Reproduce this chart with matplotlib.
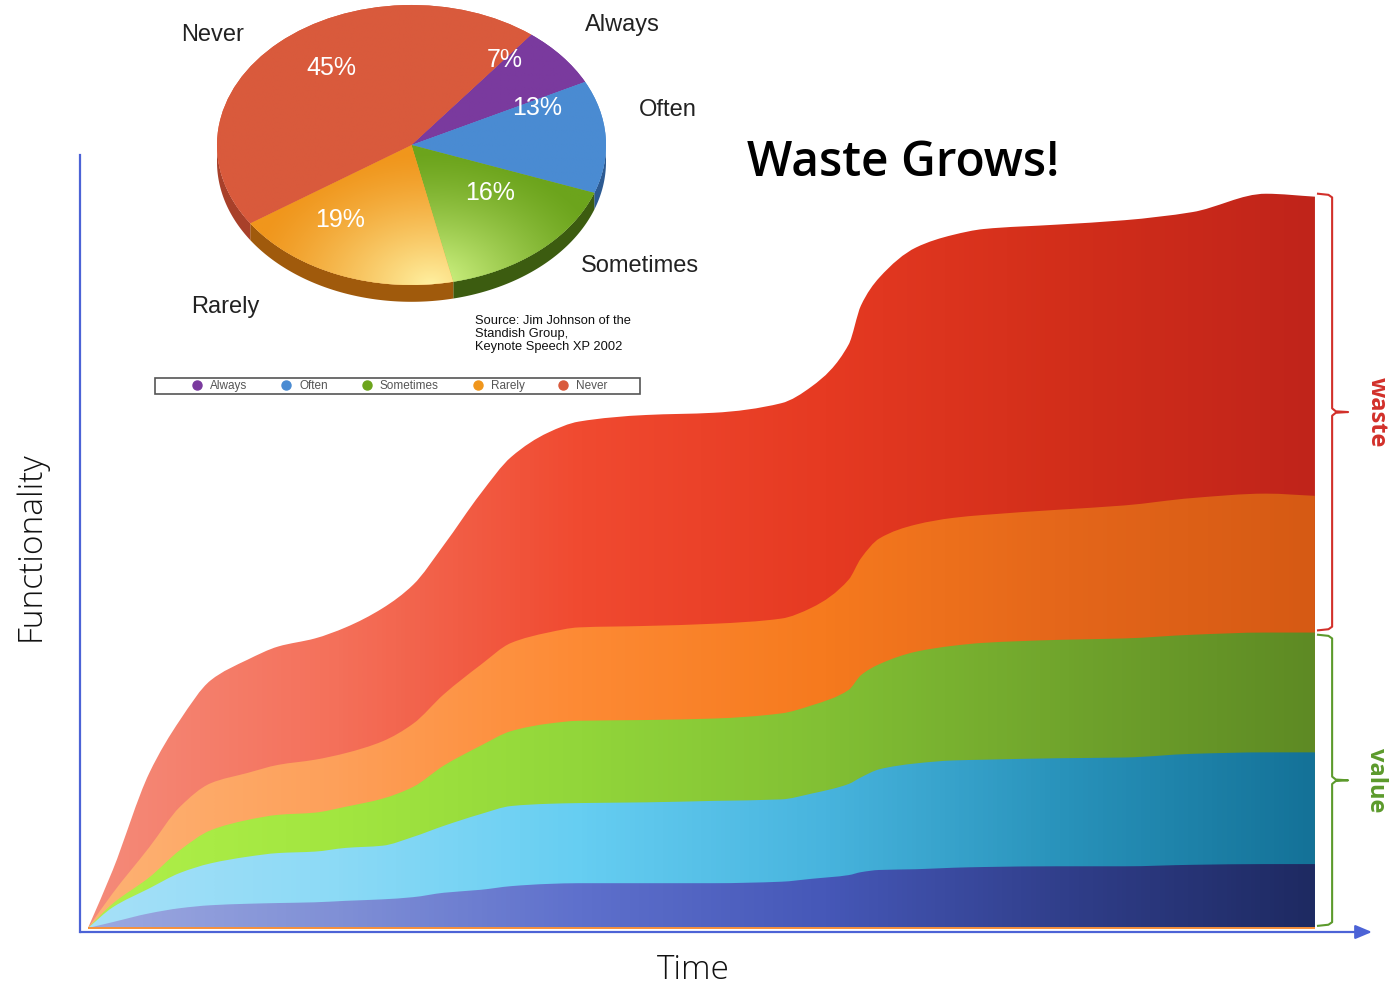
import numpy as np
import matplotlib.pyplot as plt
from matplotlib.colors import LinearSegmentedColormap, to_rgb
from matplotlib.patches import Polygon, Rectangle, PathPatch
from matplotlib.path import Path
from matplotlib.lines import Line2D

# ---- stacked area : functionality delivered over time (0 = start, 100 = end)
t = [0, 2, 5, 7.5, 10, 13, 15.5, 18.5, 21, 24, 26.5, 29, 32, 34.5, 37.5, 40,
     45.5, 51, 56.5, 59, 62, 63, 64.5, 67.5, 70.5, 73, 79, 84.5, 90, 96, 100]
always = [0, 0.8, 2.0, 2.7, 3.1, 3.3, 3.4, 3.5, 3.7, 3.9, 4.2, 4.8, 5.2, 5.7, 6.0, 6.1,
          6.1, 6.1, 6.3, 6.7, 7.2, 7.6, 7.9, 8.0, 8.2, 8.3, 8.4, 8.4, 8.6, 8.7, 8.7]
often = [0, 2.0, 3.4, 4.8, 5.7, 6.4, 6.8, 6.9, 7.2, 7.3, 8.2, 9.1, 10.3, 10.9, 10.9, 10.9,
         11.0, 11.2, 11.2, 11.6, 12.4, 12.9, 13.7, 14.4, 14.6, 14.6, 14.7, 14.8, 15.1, 15.2, 15.2]
sometimes = [0, 0.5, 1.5, 3.1, 4.5, 5.0, 5.2, 5.3, 5.6, 6.4, 6.8, 8.2, 9.3, 10.2, 10.9, 11.2,
             11.2, 11.2, 11.7, 12.0, 12.8, 13.9, 14.3, 15.2, 15.6, 15.9, 16.1, 16.2, 16.2, 16.3, 16.3]
rarely = [0, 1.4, 4.1, 5.9, 6.4, 6.4, 6.8, 7.2, 7.3, 7.8, 8.6, 9.7, 11.0, 12.0, 12.4, 12.7,
          12.8, 12.9, 12.9, 13.3, 15.0, 15.9, 17.1, 17.3, 17.4, 17.4, 17.7, 18.1, 18.6, 18.9, 18.6]
never = [0, 3.1, 10.1, 11.8, 14.0, 15.4, 16.1, 16.5, 17.1, 18.1, 18.9, 20.3, 23.3, 25.3, 27.2, 28.0,
         28.7, 28.7, 29.3, 30.1, 32.0, 34.4, 35.5, 37.7, 38.5, 38.9, 38.8, 38.8, 38.9, 40.8, 40.7]

# ---- pie : how often features are used (Standish Group)
usage_labels = ["Always", "Often", "Sometimes", "Rarely", "Never"]
usage_pct = [7, 13, 16, 19, 45]

W, H = 1395, 988
def fx(px):
    return px / W
def fy(py):
    return 1 - py / H


def pchip_slopes(x, y):
    # shape-preserving tangents so the bezier edges don't overshoot
    h = np.diff(x)
    d = np.diff(y) / h
    m = np.zeros_like(y)
    m[0], m[-1] = d[0], d[-1]
    for k in range(1, len(x) - 1):
        if d[k - 1] * d[k] > 0:
            w1 = 2 * h[k] + h[k - 1]
            w2 = h[k] + 2 * h[k - 1]
            m[k] = (w1 + w2) / (w1 / d[k - 1] + w2 / d[k])
    return m


def area_path(x, y):
    m = pchip_slopes(x, y)
    verts = [(x[0], y[0])]
    codes = [Path.MOVETO]
    for i in range(len(x) - 1):
        h = x[i + 1] - x[i]
        verts += [(x[i] + h / 3, y[i] + m[i] * h / 3),
                  (x[i + 1] - h / 3, y[i + 1] - m[i + 1] * h / 3),
                  (x[i + 1], y[i + 1])]
        codes += [Path.CURVE4] * 3
    verts += [(x[-1], 0), (x[0], 0), (x[0], y[0])]
    codes += [Path.LINETO, Path.LINETO, Path.CLOSEPOLY]
    return Path(verts, codes)


fig = plt.figure(figsize=(W / 100, H / 100), dpi=100)

# ================= stacked area with horizontal gradients =================
ax = fig.add_axes([fx(80), fy(932), fx(1372) - fx(80), fy(155) - fy(932)])

gradients = [
    ["#9ca8e0", "#8090d6", "#5e70cc", "#4658b8", "#303e8a", "#1e2a62"],
    ["#a6e0f8", "#8cdaf6", "#66cef2", "#48b4de", "#2892ba", "#147298"],
    ["#b0f04a", "#a2e640", "#92d63a", "#82c034", "#70a42c", "#5e8a24"],
    ["#fdb274", "#fda05a", "#fd8a34", "#f67a1e", "#e4661a", "#d65a14"],
    ["#f58b7a", "#f4705a", "#f04a30", "#e63a22", "#d22e1a", "#c0241a"],
]
layers = [always, often, sometimes, rarely, never]
tops = np.cumsum(np.array(layers, dtype=float), axis=0)
tt = np.array(t, dtype=float)

# draw from the top layer down, each one filled from zero, so no seams show
for k in range(len(layers) - 1, -1, -1):
    top = tops[k]
    poly = PathPatch(area_path(tt, top), fc="none", ec="none")
    ax.add_patch(poly)
    cmap = LinearSegmentedColormap.from_list(f"g{k}", gradients[k])
    im = ax.imshow(np.linspace(0, 1, 256)[None, :], cmap=cmap,
                   extent=[tt[0], tt[-1], 0, top.max() + 1], origin="lower",
                   aspect="auto", interpolation="bilinear", zorder=2)
    im.set_clip_path(poly)

ax.set_xlim(-0.65, 104.65)
ax.set_ylim(-0.54, 105.17)

# thin orange baseline under the stack
ax.plot([tt[0], tt[-1]], [0.05, 0.05], color="#f7913a", lw=1.4, zorder=3,
        solid_capstyle="butt")

axis_blue = "#4c63d6"
for s in ["top", "right", "bottom"]:
    ax.spines[s].set_visible(False)
ax.spines["left"].set_color(axis_blue)
ax.spines["left"].set_linewidth(1.6)
ax.set_xticks([])
ax.set_yticks([])
ax.patch.set_alpha(0)
ax.annotate("", xy=(1, 0), xytext=(0, 0), xycoords="axes fraction",
            arrowprops=dict(arrowstyle="-|>,head_length=1.0,head_width=0.42",
                            color=axis_blue, lw=1.6, shrinkA=0, shrinkB=0,
                            mutation_scale=10))

ax.text(-0.65 - 4.0, 52, "Functionality", rotation=90, ha="center", va="center",
        fontsize=24, family="Open Sans", fontweight="light", color="#111")
fig.text(fx(693), fy(970), "Time", ha="center", va="center", fontsize=24,
         family="Open Sans", fontweight="light", color="#111")

# curly brackets on the right: value = bottom three layers, waste = top two
def brace(y0, y1, color):
    xa, xb, xc = 100.25, 101.4, 102.7
    ym = (y0 + y1) / 2
    d = 0.5
    xs = [xa, xb - 0.3, xb, xb, xb + 0.3, xc, xb + 0.3, xb, xb, xb - 0.3, xa]
    ys = [y1, y1 - 0.15, y1 - d, ym + d, ym + 0.1, ym, ym - 0.1, ym - d, y0 + d, y0 + 0.15, y0]
    ax.plot(xs, ys, color=color, lw=1.5, clip_on=False, zorder=4)
    return ym

value_top = tops[2][-1]
ym_v = brace(0.3, value_top - 0.3, "#5c9a2c")
ym_w = brace(value_top + 0.3, tops[4][-1] + 0.4, "#d2302a")
ax.text(105.0, ym_w, "waste", rotation=-90, ha="center", va="center", fontsize=17,
        family="Open Sans", fontweight="bold", color="#d2302a", clip_on=False)
ax.text(105.0, ym_v, "value", rotation=-90, ha="center", va="center", fontsize=17,
        family="Open Sans", fontweight="bold", color="#5c9a2c", clip_on=False)

fig.text(fx(903), fy(163), "Waste Grows!", ha="center", va="center", fontsize=34.5,
         family="Open Sans", fontweight="semibold", color="black")

# ================= pseudo-3D pie =================
pie_cols = ["#7a3a9e", "#4a8bd2", "#6ca41c", "#f0961c", "#d95a3c"]
pie_light = ["#9352b4", "#6aa8e6", "#d6f88a", "#fff0a0", "#e27054"]
pie_side = ["#4e2268", "#2c5a92", "#3c5c10", "#a05a0c", "#a8402a"]

pax = fig.add_axes([fx(217), fy(285), fx(606) - fx(217), fy(5) - fy(285)])
wedges, _ = pax.pie(usage_pct, colors=pie_cols, startangle=52, counterclock=False,
                    radius=1, wedgeprops=dict(linewidth=0))
pax.set_aspect("auto")
pax.axis("off")

# side wall of the pie (front half only)
depth = 0.12
for w, sc in zip(wedges, pie_side):
    a = np.linspace(w.theta1, w.theta2, 200)
    a = a[np.sin(np.radians(a)) < 0]
    if len(a) < 2:
        continue
    xe, ye = np.cos(np.radians(a)), np.sin(np.radians(a))
    side = np.vstack([np.column_stack([xe, ye]),
                      np.column_stack([xe[::-1], ye[::-1] - depth])])
    pax.add_patch(Polygon(side, closed=True, fc=sc, ec="none", zorder=0.5,
                          clip_on=False))

# soft highlight towards the front of each slice
gx, gy = np.meshgrid(np.linspace(-1, 1, 300), np.linspace(-1, 1, 300))
glow = np.clip(1 - np.hypot((gx - 0.1) / 0.95, (gy + 1.0) / 0.95), 0, 1) ** 1.3
for w, c0, c1 in zip(wedges, pie_cols, pie_light):
    b, l = np.array(to_rgb(c0)), np.array(to_rgb(c1))
    img = b[None, None, :] * (1 - glow[..., None]) + l[None, None, :] * glow[..., None]
    im = pax.imshow(img, extent=[-1, 1, -1, 1], origin="lower", aspect="auto",
                    interpolation="bilinear", zorder=2)
    im.set_clip_path(w)
pax.set_xlim(-1, 1)
pax.set_ylim(-1, 1)

pct_pos = [(505, 60), (537, 108), (490, 193), (340, 220), (331, 68)]
for v, (px, py) in zip(usage_pct, pct_pos):
    fig.text(fx(px), fy(py), f"{v}%", ha="center", va="center", fontsize=18,
             family="Liberation Sans", color="white")

name_pos = [(622, 25), (668, 110), (640, 266), (225, 307), (213, 35)]
for name, (px, py) in zip(usage_labels, name_pos):
    fig.text(fx(px), fy(py), name, ha="center", va="center", fontsize=17,
             family="Liberation Sans", color="#222")

fig.text(fx(475), fy(315), "Source: Jim Johnson of the\nStandish Group,\nKeynote Speech XP 2002",
         ha="left", va="top", fontsize=9.3, family="Liberation Sans", color="#111",
         linespacing=1.12)

# legend strip
fig.patches.append(Rectangle((fx(155), fy(394)), fx(640) - fx(155), fy(378) - fy(394),
                             transform=fig.transFigure, fc="white", ec="#555", lw=1.2))
handles = [Line2D([], [], ls="none", marker="o", ms=6.5, mfc=c, mec=c) for c in pie_cols]
fig.legend(handles, usage_labels, loc="center", bbox_to_anchor=(fx(400), fy(386)),
           ncol=5, frameon=False, handlelength=0.8, handletextpad=0.7,
           columnspacing=2.9, borderpad=0, prop={"family": "Liberation Sans", "size": 8.5},
           labelcolor="#555")

fig.savefig("out.png", dpi=100)
